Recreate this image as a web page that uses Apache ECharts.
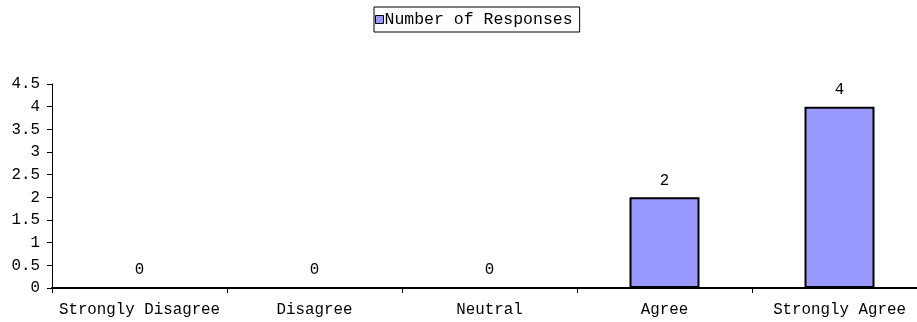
<!DOCTYPE html>
<html>
<head>
<meta charset="utf-8">
<style>
  html, body { margin: 0; padding: 0; background: #fff; overflow: hidden; }
  /* canvas is slightly wider than the window so the plot runs past the right edge */
  #chart { width: 927px; height: 322px; }
</style>
<script src="https://cdn.jsdelivr.net/npm/echarts@6/dist/echarts.min.js"></script>
</head>
<body>
<div id="chart"></div>
<script>
// Survey answers and counts
const categories = ['Strongly Disagree', 'Disagree', 'Neutral', 'Agree', 'Strongly Agree'];
const responses = [0, 0, 0, 2, 4];
const seriesName = 'Number of Responses';

const FONT = '"Liberation Mono", "Courier New", monospace';
const FS = 15.8;

const chart = echarts.init(document.getElementById('chart'), null, { renderer: 'canvas' });
chart.setOption({
  animation: false,
  backgroundColor: '#ffffff',
  textStyle: { fontFamily: FONT, fontSize: FS, color: '#000' },
  legend: {
    data: [seriesName],
    top: 7,
    left: 374,
    padding: [4, 7, 4, 1],
    borderColor: '#000',
    borderWidth: 1,
    itemWidth: 8,
    itemHeight: 8,
    itemGap: 0,
    icon: 'rect',
    itemStyle: { color: '#9999ff', borderColor: '#000', borderWidth: 1 },
    textStyle: { fontFamily: FONT, fontSize: 16.5, color: '#000', padding: [0, 0, 0, -4] }
  },
  grid: { left: 52, right: 0, top: 84, height: 204, containLabel: false },
  xAxis: {
    type: 'category',
    data: categories,
    axisLine: { lineStyle: { color: '#000', width: 2 } },
    axisTick: { show: true, length: 5, lineStyle: { color: '#000', width: 1 } },
    axisLabel: { fontFamily: FONT, fontSize: FS, color: '#000', margin: 14, interval: 0 },
    splitLine: { show: false }
  },
  yAxis: {
    type: 'value',
    min: 0,
    max: 4.5,
    interval: 0.5,
    axisLine: { show: true, lineStyle: { color: '#000', width: 1 } },
    axisTick: { show: true, length: 5, lineStyle: { color: '#000' } },
    axisLabel: { fontFamily: FONT, fontSize: FS, color: '#000', margin: 12 },
    splitLine: { show: false }
  },
  series: [{
    name: seriesName,
    type: 'bar',
    data: responses,
    barWidth: '40%',
    itemStyle: { color: '#9999ff', borderColor: '#000', borderWidth: 2 },
    label: {
      show: true,
      position: 'top',
      distance: 9,
      fontFamily: FONT,
      fontSize: FS,
      color: '#000'
    }
  }]
});
</script>
</body>
</html>
